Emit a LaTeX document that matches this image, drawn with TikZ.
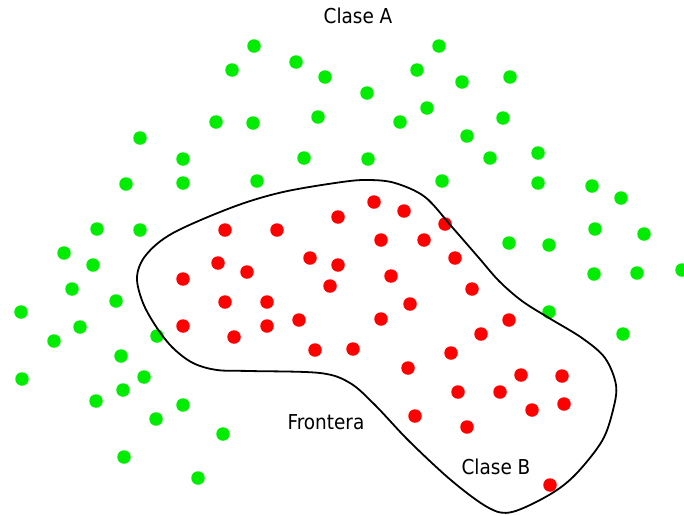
\documentclass[tikz,border=0pt]{standalone}
\usepackage{fontspec}
\setmainfont{DejaVu Sans Condensed}
\usepackage{xcolor}
\definecolor{ClassGreen}{HTML}{00EC00}
\definecolor{ClassRed}{HTML}{FF0000}
\usepackage{tikz}
\tikzset{
  dotA/.style={
    circle,
    fill=ClassGreen,
    inner sep=0pt,
    minimum size=13.5pt
  },
  dotB/.style={
    circle,
    fill=ClassRed,
    inner sep=0pt,
    minimum size=13.5pt
  },
  frontline/.style={
    draw=black,
    line width=1.8pt
  },
  classlabel/.style={
    font=\fontsize{20.5}{24}\selectfont,
    inner sep=0pt
  }
}

\begin{document}
\begin{tikzpicture}[x=1pt,y=-1pt]
  \useasboundingbox (0,0) rectangle (684,515);
  \foreach \px/\py [count=\i] in {254/46,439/46,232/70,296/62,325/77,417/70,462/82,510/77,367/93,216/122,253/123,318/117,400/122,427/108,503/118,140/138,467/136,183/159,304/158,368/159,490/158,538/153,126/184,183/183,257/181,442/181,538/183,592/186,621/198,97/229,140/230,509/243,549/245,595/229,644/234,64/253,93/265,594/274,637/273,682/270,72/289,116/301,21/312,80/327,157/336,549/312,623/334,54/341,121/356,144/377,22/379,123/390,96/401,183/405,156/419,223/434,124/457,198/478}
    {\node[dotA] (a\i) at (\px,\py) {};}
  \foreach \px/\py [count=\i] in {225/230,277/230,338/217,374/202,404/211,445/224,381/240,424/240,218/263,247/272,183/279,310/258,338/265,455/258,391/276,330/286,472/289,225/302,267/302,410/304,183/326,267/326,299/320,381/319,509/320,234/337,481/334,315/350,353/349,451/353,408/368,521/375,562/376,458/392,500/392,532/410,564/404,415/416,467/427,550/485}
    {\node[dotB] (b\i) at (\px,\py) {};}
  \draw[frontline] plot[smooth cycle, tension=0.55] coordinates {
    (137,277) (146,255) (173,233) (233,207) (283,192) (342,182) (369,180)
    (395,183) (425,197) (452,227) (479,258) (499,281) (522,301) (549,318)
    (582,338) (605,358) (616,385) (613,410) (602,441) (575,475) (549,495)
    (512,512) (489,508) (452,481) (409,441) (375,405) (350,383) (320,373)
    (250,371) (217,370) (193,363) (173,348) (157,328) (143,303)};
  \node[classlabel] (claseA) at (358,16) {Clase A};
  \node[classlabel] (frontera) at (326,422) {Frontera};
  \node[classlabel] (claseB) at (496,467) {Clase B};
\end{tikzpicture}
\end{document}
